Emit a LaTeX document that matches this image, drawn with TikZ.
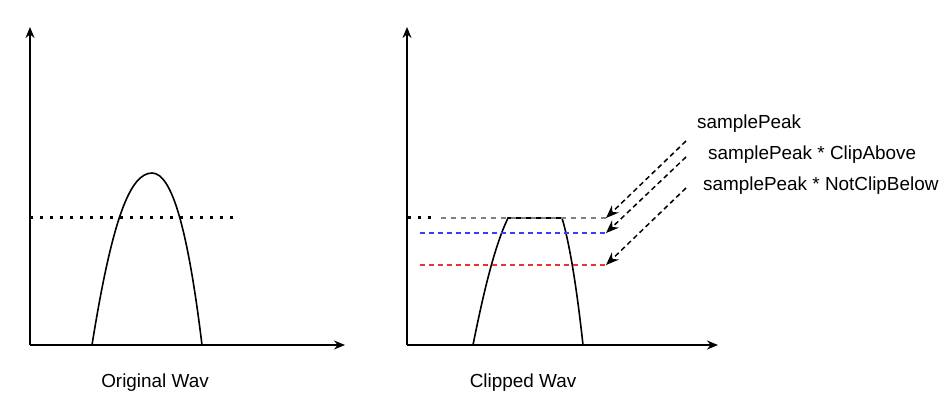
\documentclass[tikz,border=0pt]{standalone}
\usepackage{fontspec}
\setmainfont{Liberation Sans}
\usetikzlibrary{arrows.meta}
\definecolor{lnblue}{RGB}{60,60,255}
\definecolor{lnred}{RGB}{235,50,50}
\begin{document}
\begin{tikzpicture}[x=1pt,y=-1pt,
  axis/.style={line width=1.6pt,-{Stealth[length=11pt,width=9pt]}},
  wave/.style={line width=1.6pt},
  lbl/.style={font=\fontsize{18.9}{22}\selectfont,inner sep=0pt},
  ptr/.style={line width=1.5pt,dash pattern=on 5pt off 3.5pt,-{Stealth[length=13pt,width=10pt]}}]
\useasboundingbox (0,0) rectangle (943,402);
% left axes
\coordinate (lo) at (30,345);
\coordinate (ly) at (30,27);
\coordinate (lx) at (345,345);
\draw[axis] (lo) -- (ly);
\draw[axis] (lo) -- (lx);
\draw[wave] (92,345) .. controls (112,220) and (130,173) .. (152,173) .. controls (172,173) and (188,230) .. (202,345);
\draw[line width=3pt,dash pattern=on 3pt off 7pt] (30,217) -- (236,217);
\node[lbl] (orig) at (155,383) {Original Wav};
% right axes
\coordinate (ro) at (407,345);
\coordinate (ry) at (407,27);
\coordinate (rx) at (718,345);
\draw[axis] (ro) -- (ry);
\draw[axis] (ro) -- (rx);
\draw[wave] (473,345) .. controls (484,290) and (495,245) .. (508,218) -- (562,218) .. controls (570,245) and (577,290) .. (583,345);
\draw[line width=3pt,dash pattern=on 3pt off 7pt] (408,217) -- (436,217);
\draw[gray,line width=1.4pt,dash pattern=on 5pt off 5pt] (441,218) -- (606,218);
\draw[lnblue,line width=1.4pt,dash pattern=on 5pt off 4pt] (420,233) -- (606,233);
\draw[lnred,line width=1.4pt,dash pattern=on 5pt off 4pt] (420,265) -- (606,265);
\coordinate (tp) at (606,218);
\coordinate (tb) at (606,233);
\coordinate (tr) at (606,265);
\node[lbl,anchor=west] (l1) at (697,124) {samplePeak};
\node[lbl,anchor=west] (l2) at (708,155) {samplePeak * ClipAbove};
\node[lbl,anchor=west] (l3) at (703,186) {samplePeak * NotClipBelow};
\coordinate (s1) at (686,141);
\coordinate (s2) at (686,157);
\coordinate (s3) at (686,188);
\draw[ptr] (s1) -- (tp);
\draw[ptr] (s2) -- (tb);
\draw[ptr] (s3) -- (tr);
\node[lbl] (clip) at (523,383) {Clipped Wav};
\end{tikzpicture}
\end{document}
